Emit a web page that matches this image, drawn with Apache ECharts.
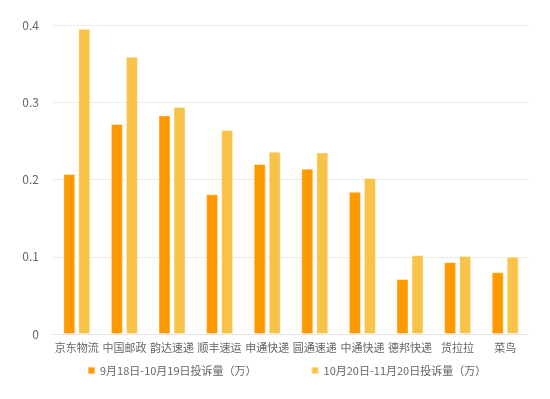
<!DOCTYPE html>
<html><head><meta charset="utf-8">
<script src="https://cdn.jsdelivr.net/npm/echarts@6/dist/echarts.min.js"></script>
<style>html,body{margin:0;padding:0;background:#fff}#c{width:550px;height:399px}</style>
</head><body><div id="c"></div>
<script>
const categories = ['京东物流','中国邮政','韵达速递','顺丰速运','申通快递','圆通速递','中通快递','德邦快递','货拉拉','菜鸟'];
const seriesNames = ['9月18日-10月19日投诉量（万）','10月20日-11月20日投诉量（万）'];
const period1 = [0.207,0.272,0.283,0.181,0.220,0.214,0.184,0.071,0.093,0.080];
const period2 = [0.395,0.359,0.294,0.264,0.236,0.235,0.202,0.102,0.101,0.100];
const yTicks = [0,0.1,0.2,0.3,0.4];

const chart = echarts.init(document.getElementById('c'));
const font = '"Noto Sans CJK SC", "Noto Sans", sans-serif';
chart.setOption({
  animation:false,
  textStyle:{fontFamily:font},
  grid:{left:53,right:21,top:25,bottom:65},
  legend:{bottom:18,left:82,itemWidth:7,itemHeight:7,itemGap:54,icon:'rect',
    textStyle:{color:'#666',fontSize:11,fontFamily:font},data:seriesNames},
  xAxis:{type:'category',data:categories,
    axisLine:{lineStyle:{color:'#e6e6e6'}},axisTick:{show:false},
    axisLabel:{color:'#666',fontSize:11,interval:0,margin:8,fontFamily:font}},
  yAxis:{type:'value',min:yTicks[0],max:yTicks[yTicks.length-1],interval:0.1,
    axisLine:{show:false},axisTick:{show:false},
    splitLine:{lineStyle:{color:'#ebebeb'}},
    axisLabel:{color:'#666',fontSize:12,margin:14,fontFamily:font}},
  series:[
    {name:seriesNames[0],type:'bar',data:period1,barWidth:12,barGap:'25%',
      itemStyle:{color:'#FF9900',borderColor:'rgba(255,255,255,0.4)',borderWidth:1}},
    {name:seriesNames[1],type:'bar',data:period2,barWidth:12,
      itemStyle:{color:'#F9C34A',borderColor:'rgba(255,255,255,0.4)',borderWidth:1}}
  ]
});
</script></body></html>
